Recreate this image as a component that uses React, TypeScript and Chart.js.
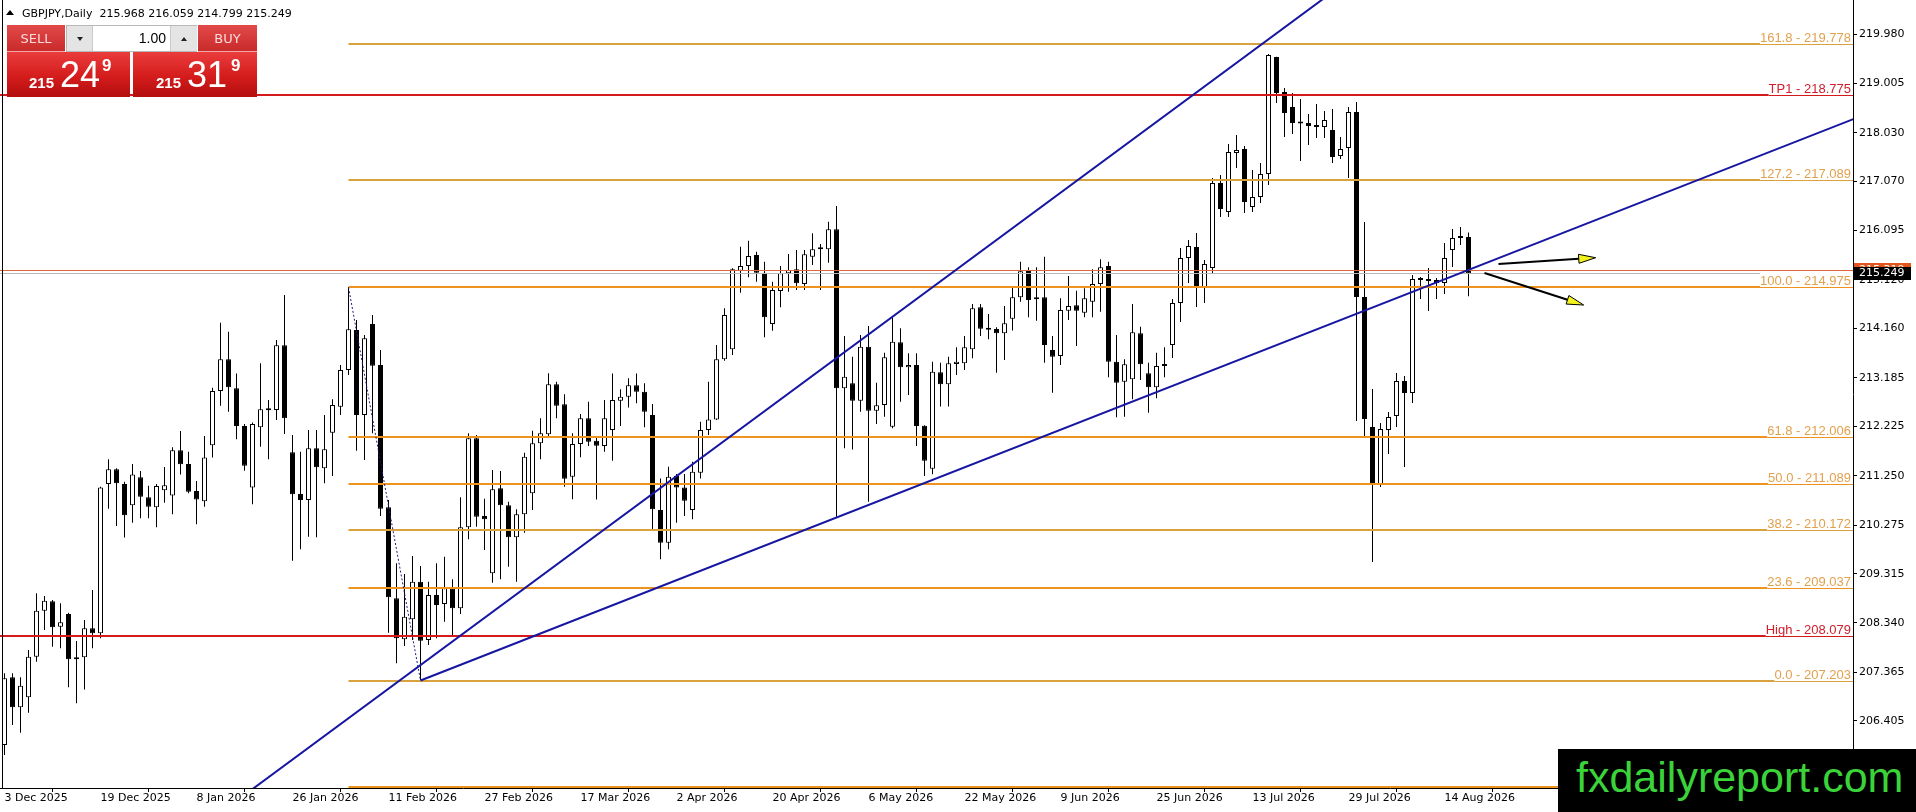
import React, { useEffect, useRef } from 'react';
import { Chart, registerables } from 'chart.js';

Chart.register(...registerables);

// ---------- data ----------
const headerText = 'GBPJPY,Daily  215.968 216.059 214.799 215.249';

const opens = [
  205.928, 207.266, 206.673, 206.870, 207.674, 208.583, 208.768, 208.267, 208.517, 207.621,
  207.661, 208.234, 208.135, 211.086, 211.376, 211.086, 210.665, 211.218, 210.823, 210.625,
  210.961, 210.862, 211.752, 211.482, 210.948, 210.744, 211.851, 212.924, 213.550, 212.977,
  212.233, 211.020, 212.206, 212.569, 212.549, 213.827, 211.712, 210.889, 210.771, 211.792,
  211.396, 212.101, 212.615, 213.340, 214.130, 212.450, 214.249, 213.439, 210.626, 208.827,
  208.017, 208.412, 209.157, 208.004, 208.893, 208.715, 209.025, 208.630, 210.230, 211.989,
  210.454, 209.321, 211.001, 210.665, 210.033, 210.487, 210.902, 211.890, 212.068, 213.056,
  212.661, 211.232, 211.877, 212.384, 211.943, 211.837, 212.154, 212.733, 212.812, 213.036,
  212.911, 212.450, 210.573, 209.927, 211.244, 211.020, 210.573, 211.310, 212.154, 212.364,
  213.550, 213.748, 215.302, 215.395, 215.612, 215.263, 214.248, 214.901, 215.250, 215.329,
  215.039, 215.579, 215.737, 215.724, 216.119, 212.977, 213.076, 212.733, 213.800, 212.536,
  212.648, 212.220, 213.887, 213.393, 213.439, 212.240, 211.390, 213.294, 213.057, 213.459,
  213.472, 213.749, 214.579, 214.150, 214.150, 214.065, 214.354, 214.776, 215.316, 214.737,
  214.776, 213.735, 213.617, 214.513, 214.618, 214.473, 214.691, 215.040, 215.396, 213.505,
  213.110, 213.156, 214.065, 213.274, 212.998, 213.419, 213.834, 214.664, 215.553, 215.771,
  214.980, 215.356, 217.035, 216.462, 217.628, 217.707, 216.561, 216.759, 217.213, 219.526,
  218.834, 218.537, 218.221, 218.221, 218.162, 218.142, 218.083, 217.569, 217.727, 218.439,
  214.782, 212.213, 211.087, 212.154, 212.431, 213.122, 212.885, 215.138, 215.118, 215.118,
  215.059, 215.711, 215.948, 215.968,
];

const highs = [
  207.345, 207.345, 207.266, 207.806, 208.926, 208.873, 208.794, 208.728, 208.544, 207.984,
  208.399, 208.992, 211.034, 211.574, 211.396, 211.132, 211.482, 211.343, 211.053, 211.086,
  211.422, 211.811, 212.134, 211.725, 211.146, 212.035, 212.990, 214.275, 214.097, 213.273,
  212.272, 212.300, 213.471, 212.746, 213.932, 214.822, 212.055, 211.726, 212.154, 212.154,
  212.450, 212.760, 213.439, 214.975, 214.328, 214.031, 214.427, 213.735, 210.771, 209.519,
  209.308, 209.664, 209.466, 209.157, 209.519, 209.651, 209.203, 210.823, 212.088, 212.055,
  210.797, 211.363, 211.344, 210.738, 210.586, 211.706, 212.141, 212.384, 213.274, 213.109,
  212.859, 212.088, 212.470, 212.713, 212.035, 212.746, 213.273, 212.957, 213.175, 213.273,
  213.076, 212.667, 211.198, 211.429, 211.284, 211.284, 211.528, 212.318, 213.109, 213.833,
  214.558, 215.349, 215.777, 215.895, 215.678, 215.480, 215.085, 215.395, 215.632, 215.711,
  215.711, 216.040, 215.829, 216.271, 216.580, 214.011, 213.603, 214.031, 214.209, 213.089,
  213.682, 214.381, 214.163, 213.669, 213.669, 212.250, 213.505, 213.485, 213.604, 213.788,
  214.012, 214.645, 214.645, 214.447, 214.183, 214.605, 214.974, 215.481, 215.369, 215.369,
  215.580, 214.012, 214.757, 215.198, 214.908, 214.954, 215.330, 215.527, 215.481, 214.032,
  213.551, 214.645, 214.197, 213.485, 213.682, 213.788, 214.743, 215.751, 215.909, 216.047,
  215.514, 217.134, 217.193, 217.806, 217.984, 217.767, 217.292, 217.431, 219.585, 219.530,
  218.913, 218.814, 218.695, 218.399, 218.597, 218.458, 218.498, 217.944, 218.537, 218.636,
  216.265, 212.964, 212.292, 212.510, 213.280, 213.221, 215.217, 215.178, 215.356, 215.158,
  215.850, 216.126, 216.166, 216.059,
];

const lows = [
  205.731, 206.324, 206.172, 206.567, 207.575, 208.201, 207.872, 207.839, 207.068, 206.752,
  207.028, 207.839, 208.036, 210.599, 210.256, 210.032, 210.322, 210.408, 210.408, 210.230,
  210.717, 210.487, 211.277, 210.902, 210.289, 210.638, 211.613, 212.634, 212.516, 211.969,
  211.350, 210.685, 211.824, 211.574, 212.351, 212.075, 209.571, 209.796, 210.046, 210.033,
  211.100, 211.245, 212.450, 213.241, 211.745, 211.561, 212.088, 210.454, 208.149, 207.543,
  207.885, 208.004, 207.203, 207.905, 208.037, 208.366, 208.103, 208.518, 209.993, 210.244,
  209.782, 209.137, 209.203, 209.453, 209.157, 210.125, 210.573, 211.574, 212.022, 212.384,
  211.034, 210.784, 211.614, 211.837, 210.783, 211.725, 211.547, 212.233, 212.601, 212.681,
  212.206, 210.164, 209.598, 209.795, 210.322, 210.454, 210.388, 211.198, 212.055, 212.351,
  213.524, 213.636, 214.868, 215.171, 215.085, 213.985, 214.117, 214.578, 214.887, 214.920,
  214.920, 215.414, 214.920, 215.461, 210.441, 211.791, 211.771, 212.516, 210.737, 212.272,
  212.417, 212.187, 212.714, 212.846, 211.838, 211.245, 211.278, 212.616, 212.616, 213.241,
  213.340, 213.571, 214.012, 213.946, 213.287, 213.538, 214.118, 214.691, 214.381, 214.315,
  213.485, 212.892, 213.439, 214.328, 213.815, 214.381, 214.381, 214.493, 213.195, 212.404,
  212.417, 212.760, 213.143, 212.497, 212.780, 213.195, 213.577, 214.288, 215.059, 214.585,
  214.664, 215.257, 216.363, 216.363, 217.332, 216.442, 216.462, 216.640, 216.996, 218.616,
  217.944, 218.004, 217.470, 217.786, 217.925, 217.925, 217.431, 217.510, 217.134, 212.332,
  212.016, 209.545, 211.027, 211.680, 212.213, 211.423, 212.688, 214.743, 214.506, 214.743,
  214.842, 215.375, 215.810, 214.799,
];

const closes = [
  207.246, 206.673, 207.101, 207.674, 208.583, 208.781, 208.254, 208.353, 207.621, 207.661,
  208.234, 208.135, 211.020, 211.376, 211.100, 210.467, 211.277, 210.836, 210.638, 211.047,
  211.060, 211.752, 211.475, 210.935, 210.783, 211.613, 212.924, 213.550, 212.997, 212.233,
  211.449, 212.272, 212.562, 212.542, 213.827, 212.384, 210.882, 210.771, 211.792, 211.416,
  211.772, 212.648, 213.340, 214.143, 212.450, 213.966, 213.425, 210.599, 208.847, 208.037,
  208.465, 209.157, 207.991, 208.893, 208.695, 209.025, 208.630, 210.230, 211.989, 210.441,
  210.388, 210.981, 210.665, 210.033, 210.487, 211.627, 211.890, 212.088, 213.056, 212.635,
  211.192, 211.877, 212.384, 211.923, 211.844, 212.384, 212.746, 212.812, 213.036, 212.911,
  212.516, 210.586, 209.927, 211.231, 211.020, 210.757, 211.330, 212.154, 212.364, 213.550,
  214.426, 215.329, 215.395, 215.592, 215.263, 214.380, 214.920, 215.250, 215.316, 215.052,
  215.625, 215.724, 215.724, 216.119, 212.977, 213.208, 212.733, 213.800, 212.536, 212.641,
  213.590, 213.900, 213.393, 213.439, 212.233, 211.548, 213.307, 213.057, 213.472, 213.505,
  213.788, 214.559, 214.157, 214.137, 214.065, 214.262, 214.776, 215.290, 214.723, 214.776,
  213.834, 213.604, 214.526, 214.605, 214.513, 214.757, 215.040, 215.369, 213.505, 213.090,
  213.452, 214.085, 213.452, 212.998, 213.419, 213.432, 214.664, 215.553, 215.790, 214.980,
  215.435, 217.035, 216.522, 217.648, 217.688, 216.660, 216.759, 217.213, 219.565, 218.814,
  218.419, 218.221, 218.211, 218.162, 218.142, 218.280, 217.549, 217.707, 218.439, 214.782,
  212.371, 211.087, 212.174, 212.411, 213.122, 212.885, 215.138, 215.118, 215.099, 215.059,
  215.553, 215.948, 215.968, 215.249,
];

const dateLabels = [
  '3 Dec 2025', '19 Dec 2025', '8 Jan 2026', '26 Jan 2026', '11 Feb 2026', '27 Feb 2026',
  '17 Mar 2026', '2 Apr 2026', '20 Apr 2026', '6 May 2026', '22 May 2026', '9 Jun 2026',
  '25 Jun 2026', '13 Jul 2026', '29 Jul 2026', '14 Aug 2026',
];
const dateTickStep = 12;

const priceTicks = [
  219.980, 219.005, 218.030, 217.070, 216.095, 215.120, 214.160, 213.185,
  212.225, 211.250, 210.275, 209.315, 208.340, 207.365, 206.405,
];
const priceMin = 205.079;
const priceMax = 220.652;
const barMin = -0.5625;
const barMax = 231.0625;

const fibLevels = [161.8, 127.2, 100.0, 61.8, 50.0, 38.2, 23.6, 0.0, -27.2];
const fibPrices = [219.778, 217.089, 214.975, 212.006, 211.089, 210.172, 209.037, 207.203, 205.089];
const fibStartBar = 43;
const fibBaseBars = [43, 52];
const fibBasePrices = [214.975, 207.203];

const redLevelNames = ['TP1', 'High'];
const redLevelPrices = [218.775, 208.079];

const bidPrice = 215.249;
const askPrice = 215.319;

const trend1Bars = [25, 166];
const trend1Prices = [204.358, 220.81];
const trend2Bars = [52, 240];
const trend2Prices = [207.203, 218.85];

const arrowFromBars = [186.75, 185.0];
const arrowFromPrices = [215.435, 215.257];
const arrowToBars = [198.9, 197.4];
const arrowToPrices = [215.559, 214.624];

// ---------- styles ----------
const GOLD = '#D9A23E';
const ORANGE = '#EE9220';
const fibLineColors = [GOLD, GOLD, ORANGE, ORANGE, ORANGE, GOLD, ORANGE, GOLD, ORANGE];
const fibTextColor = '#E3A04C';
const RED = '#D41A1A';
const redTextColor = '#D0202C';
const TREND = '#1616A2';
const LEVEL_FONT = '13px "Liberation Sans", Arial, sans-serif';
const AXIS_FONT = '11px "DejaVu Sans", sans-serif';

const mt4Plugin = {
  id: 'mt4Objects',
  afterDatasetDraw(chart: any, args: any) {
    if (args.index !== 1) return;
    const { ctx, chartArea: ca, scales } = chart;
    const xs = scales.x;
    const ys = scales.y;
    ctx.save();
    ctx.beginPath();
    ctx.rect(ca.left, ca.top, ca.right - ca.left, ca.bottom - ca.top);
    ctx.clip();
    ctx.font = LEVEL_FONT;
    ctx.textAlign = 'right';
    ctx.textBaseline = 'alphabetic';
    const labelRight = ca.right - 2;

    const yAsk = Math.round(ys.getPixelForValue(askPrice));
    ctx.fillStyle = '#DE6A3C';
    ctx.fillRect(ca.left, yAsk, ca.right - ca.left, 1);
    const refLabel = `${fibLevels[2].toFixed(1)} - ${fibPrices[2].toFixed(3)}`;
    const refW = ctx.measureText(refLabel).width;
    const yBid = Math.round(ys.getPixelForValue(bidPrice));
    ctx.fillStyle = '#B8B8B8';
    ctx.fillRect(ca.left, yBid, labelRight - refW - ca.left, 1);

    const drawLevel = (price: number, text: string, lineColor: string, textColor: string, startX: number) => {
      const yp = Math.round(ys.getPixelForValue(price));
      const w = ctx.measureText(text).width;
      const ls = labelRight - w;
      ctx.fillStyle = lineColor;
      ctx.fillRect(startX, yp - 1, ls - startX, 2);
      ctx.fillRect(ls, yp, ca.right - ls, 1);
      ctx.fillStyle = textColor;
      ctx.fillText(text, labelRight, yp - 2);
    };
    const fx = xs.getPixelForValue(fibStartBar);
    fibLevels.forEach((lv, i) => {
      drawLevel(fibPrices[i], `${lv.toFixed(1)} - ${fibPrices[i].toFixed(3)}`, fibLineColors[i], fibTextColor, fx);
    });
    redLevelNames.forEach((n, i) => {
      drawLevel(redLevelPrices[i], `${n} - ${redLevelPrices[i].toFixed(3)}`, RED, redTextColor, ca.left);
    });
    ctx.restore();
  },
  afterDatasetsDraw(chart: any) {
    const { ctx, chartArea: ca, scales } = chart;
    const xs = scales.x;
    const ys = scales.y;
    ctx.save();
    ctx.beginPath();
    ctx.rect(ca.left, ca.top, ca.right - ca.left, ca.bottom - ca.top);
    ctx.clip();
    for (let i = 0; i < arrowFromBars.length; i++) {
      const x0 = xs.getPixelForValue(arrowFromBars[i]);
      const y0 = ys.getPixelForValue(arrowFromPrices[i]);
      const x1 = xs.getPixelForValue(arrowToBars[i]);
      const y1 = ys.getPixelForValue(arrowToPrices[i]);
      const ang = Math.atan2(y1 - y0, x1 - x0);
      const c = Math.cos(ang);
      const s = Math.sin(ang);
      const headLen = 17;
      const headW = 4.5;
      const bx = x1 - headLen * c;
      const by = y1 - headLen * s;
      ctx.strokeStyle = '#000';
      ctx.lineWidth = 2;
      ctx.beginPath();
      ctx.moveTo(x0, y0);
      ctx.lineTo(bx, by);
      ctx.stroke();
      ctx.beginPath();
      ctx.moveTo(x1, y1);
      ctx.lineTo(bx + headW * s, by - headW * c);
      ctx.lineTo(bx - headW * s, by + headW * c);
      ctx.closePath();
      ctx.fillStyle = '#F2F21C';
      ctx.fill();
      ctx.lineWidth = 1;
      ctx.stroke();
    }
    ctx.restore();
  },
  afterDraw(chart: any) {
    const { ctx, chartArea: ca, scales } = chart;
    const ys = scales.y;
    ctx.save();
    ctx.fillStyle = '#000';
    ctx.fillRect(2, 0, 1, ca.bottom);
    const x0 = ca.right + 1;
    ctx.font = AXIS_FONT;
    ctx.textAlign = 'left';
    ctx.textBaseline = 'middle';
    const ya = Math.round(ys.getPixelForValue(askPrice));
    ctx.fillStyle = '#E2561E';
    ctx.fillRect(x0, ya - 7, 57, 13);
    ctx.fillStyle = '#fff';
    ctx.fillText(askPrice.toFixed(3), x0 + 5, ya);
    const yb = Math.round(ys.getPixelForValue(bidPrice));
    ctx.fillStyle = '#000';
    ctx.fillRect(x0, yb - 6, 57, 13);
    ctx.fillStyle = '#fff';
    ctx.fillText(bidPrice.toFixed(3), x0 + 5, yb + 0.5);
    ctx.restore();
  },
};

function buildConfig(): any {
  const idx = opens.map((_, i) => i);
  return {
    type: 'bar',
    data: {
      datasets: [
        {
          type: 'bar',
          label: 'wick',
          data: idx.map((i) => ({ x: i, y: [lows[i], highs[i]] })),
          backgroundColor: '#000',
          borderWidth: 0,
          barThickness: 1,
          grouped: false,
          inflateAmount: 0,
          order: 4,
        },
        {
          type: 'bar',
          label: 'body',
          data: idx.map((i) => ({ x: i, y: [opens[i], closes[i]] })),
          backgroundColor: idx.map((i) => (closes[i] >= opens[i] ? '#ffffff' : '#000000')),
          borderColor: '#000',
          borderWidth: 1,
          borderSkipped: false,
          barThickness: 5,
          minBarLength: 2,
          grouped: false,
          inflateAmount: 0,
          order: 3,
        },
        {
          type: 'line',
          label: 'fib base',
          data: fibBaseBars.map((b, i) => ({ x: b, y: fibBasePrices[i] })),
          borderColor: '#1A1A80',
          borderWidth: 1,
          borderDash: [2, 2],
          pointRadius: 0,
          tension: 0,
          order: 2,
        },
        {
          type: 'line',
          label: 'trend 1',
          data: trend1Bars.map((b, i) => ({ x: b, y: trend1Prices[i] })),
          borderColor: TREND,
          borderWidth: 2,
          pointRadius: 0,
          tension: 0,
          order: 1,
        },
        {
          type: 'line',
          label: 'trend 2',
          data: trend2Bars.map((b, i) => ({ x: b, y: trend2Prices[i] })),
          borderColor: TREND,
          borderWidth: 2,
          pointRadius: 0,
          tension: 0,
          order: 1,
        },
      ],
    },
    options: {
      animation: false,
      responsive: false,
      maintainAspectRatio: false,
      events: [],
      layout: { padding: 0, autoPadding: false },
      plugins: {
        legend: { display: false },
        tooltip: { enabled: false },
        title: { display: false },
      },
      scales: {
        x: {
          type: 'linear',
          position: 'bottom',
          min: barMin,
          max: barMax,
          offset: false,
          afterBuildTicks: (scale: any) => {
            scale.ticks = dateLabels.map((_, i) => ({ value: i * dateTickStep }));
          },
          afterFit: (scale: any) => {
            scale.height = 24;
            scale.paddingLeft = 0;
            scale.paddingRight = 0;
          },
          ticks: {
            autoSkip: false,
            maxRotation: 0,
            minRotation: 0,
            align: 'start',
            padding: 0,
            color: '#000',
            font: { family: '"DejaVu Sans", sans-serif', size: 11 },
            callback: (v: any) => dateLabels[Math.round(Number(v) / dateTickStep)] ?? '',
          },
          grid: {
            display: true,
            drawOnChartArea: false,
            drawTicks: true,
            tickLength: 4,
            color: '#000',
          },
          border: { display: true, color: '#000', width: 1 },
        },
        y: {
          type: 'linear',
          position: 'right',
          min: priceMin,
          max: priceMax,
          afterBuildTicks: (scale: any) => {
            scale.ticks = priceTicks.map((v) => ({ value: v }));
          },
          afterFit: (scale: any) => {
            scale.width = 63;
            scale.paddingTop = 0;
            scale.paddingBottom = 0;
          },
          ticks: {
            autoSkip: false,
            padding: 2,
            color: '#000',
            font: { family: '"DejaVu Sans", sans-serif', size: 11 },
            callback: (v: any) => Number(v).toFixed(3),
          },
          grid: {
            display: true,
            drawOnChartArea: false,
            drawTicks: true,
            tickLength: 4,
            color: '#000',
          },
          border: { display: true, color: '#000', width: 1 },
        },
      },
    },
    plugins: [mt4Plugin],
  };
}

const abs = (s: any) => ({ position: 'absolute', ...s });
const LIB = '"Liberation Sans", Arial, sans-serif';
const DJV = '"DejaVu Sans", sans-serif';
const btnBg = 'linear-gradient(#E24A4A, #C92A2A)';
const priceBg = 'linear-gradient(#EA3C3C 0%, #D41C1C 55%, #B30E0E 100%)';

function PricePart(props: { left: number; big: string; sup: string; small: string; bigLeft: number; supLeft: number }) {
  const { left, big, sup, small, bigLeft, supLeft } = props;
  return (
    <>
      <span style={abs({ left, top: 74.6, font: `bold 15px ${LIB}`, lineHeight: '15px', color: '#fff', whiteSpace: 'nowrap' })}>{small}</span>
      <span style={abs({ left: bigLeft, top: 56.8, font: `36px ${LIB}`, lineHeight: '36px', color: '#fff', whiteSpace: 'nowrap' })}>{big}</span>
      <span style={abs({ left: supLeft, top: 56.6, font: `bold 17px ${LIB}`, lineHeight: '17px', color: '#fff', whiteSpace: 'nowrap' })}>{sup}</span>
    </>
  );
}

export default function App() {
  const canvasRef = useRef<HTMLCanvasElement>(null);
  useEffect(() => {
    document.body.style.margin = '0';
    const chart = new Chart(canvasRef.current as HTMLCanvasElement, buildConfig());
    return () => chart.destroy();
  }, []);

  return (
    <div style={{ position: 'relative', width: 1916, height: 812, background: '#fff', overflow: 'hidden', fontFamily: DJV }}>
      <style>{'body{margin:0}'}</style>
      <canvas ref={canvasRef} width={1916} height={812} style={{ position: 'absolute', left: 0, top: 0 }} />

      {/* header */}
      <div style={abs({ left: 6, top: 10, width: 0, height: 0, borderLeft: '4.5px solid transparent', borderRight: '4.5px solid transparent', borderBottom: '5px solid #000' })} />
      <div style={abs({ left: 22, top: 8, font: `11px ${DJV}`, lineHeight: '11px', color: '#000', whiteSpace: 'pre' })}>{headerText}</div>

      {/* trading panel */}
      <div style={abs({ left: 7, top: 25, width: 58, height: 26, background: btnBg, borderBottom: '1px solid #F2A8A8', color: '#F8DADA', font: `13px ${DJV}`, display: 'flex', alignItems: 'center', justifyContent: 'center' })}>SELL</div>
      <div style={abs({ left: 66, top: 25, width: 129, height: 25, border: '1px solid #B8B8B8', background: '#fff' })}>
        <div style={abs({ left: 0, top: 0, width: 25, height: 25, background: '#E4E4E4', borderRight: '1px solid #CACACA', display: 'flex', alignItems: 'center', justifyContent: 'center' })}>
          <div style={{ width: 0, height: 0, borderLeft: '3.5px solid transparent', borderRight: '3.5px solid transparent', borderTop: '4px solid #222' }} />
        </div>
        <div style={abs({ left: 26, top: 0, width: 73, height: 25, textAlign: 'right', font: `14px ${LIB}`, lineHeight: '25px', color: '#000' })}>1.00</div>
        <div style={abs({ left: 103, top: 0, width: 26, height: 25, background: '#E4E4E4', borderLeft: '1px solid #CACACA', display: 'flex', alignItems: 'center', justifyContent: 'center' })}>
          <div style={{ width: 0, height: 0, borderLeft: '3.5px solid transparent', borderRight: '3.5px solid transparent', borderBottom: '4px solid #222' }} />
        </div>
      </div>
      <div style={abs({ left: 198, top: 25, width: 59, height: 26, background: btnBg, borderBottom: '1px solid #F2A8A8', color: '#F8DADA', font: `13px ${DJV}`, display: 'flex', alignItems: 'center', justifyContent: 'center' })}>BUY</div>
      <div style={abs({ left: 7, top: 52, width: 123, height: 45, background: priceBg })} />
      <div style={abs({ left: 133, top: 52, width: 124, height: 45, background: priceBg })} />
      <PricePart left={29} small="215" bigLeft={60} big="24" supLeft={102} sup="9" />
      <PricePart left={156} small="215" bigLeft={187} big="31" supLeft={231} sup="9" />

      {/* watermark */}
      <div style={abs({ left: 1558, top: 749, width: 358, height: 63, background: '#000' })}>
        <span style={abs({ left: 18, top: 6.6, font: `43px ${LIB}`, lineHeight: '43px', color: '#3AD43A', whiteSpace: 'nowrap' })}>fxdailyreport.com</span>
      </div>
    </div>
  );
}
